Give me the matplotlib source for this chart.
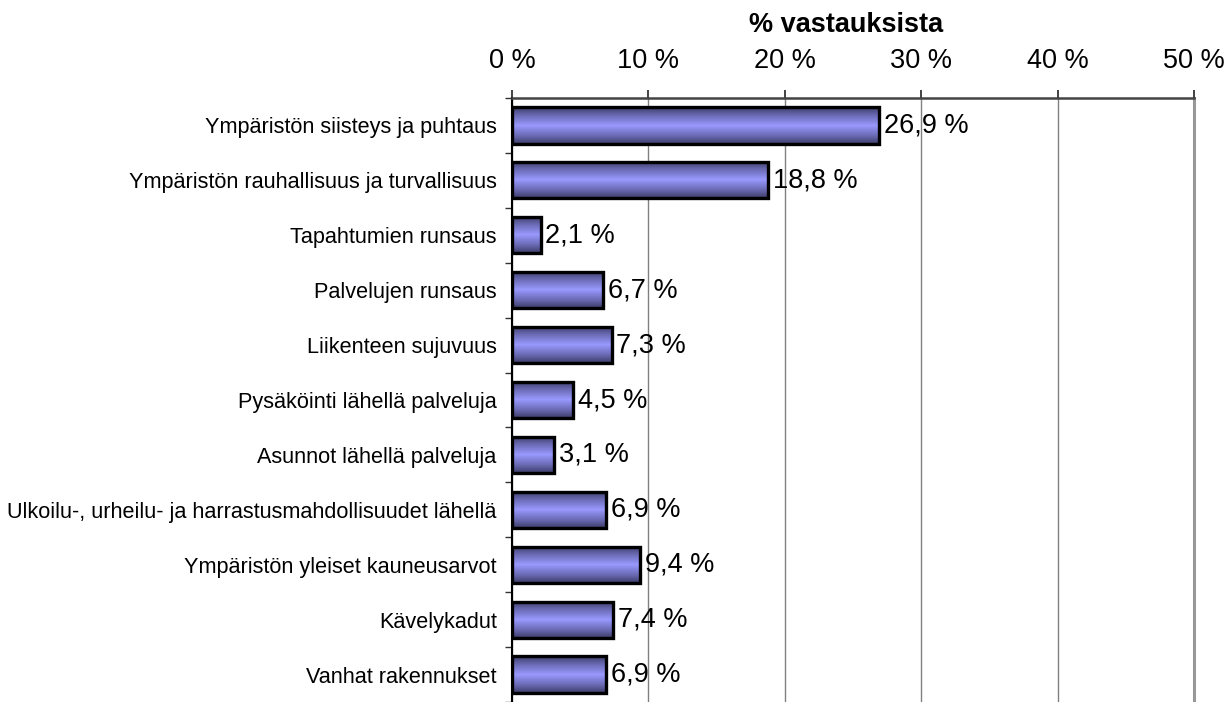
import matplotlib
matplotlib.use("Agg")
import matplotlib.pyplot as plt
import numpy as np
from matplotlib.colors import LinearSegmentedColormap

categories = [
    "Ympäristön siisteys ja puhtaus",
    "Ympäristön rauhallisuus ja turvallisuus",
    "Tapahtumien runsaus",
    "Palvelujen runsaus",
    "Liikenteen sujuvuus",
    "Pysäköinti lähellä palveluja",
    "Asunnot lähellä palveluja",
    "Ulkoilu-, urheilu- ja harrastusmahdollisuudet lähellä",
    "Ympäristön yleiset kauneusarvot",
    "Kävelykadut",
    "Vanhat rakennukset",
]
values = [26.9, 18.8, 2.1, 6.7, 7.3, 4.5, 3.1, 6.9, 9.4, 7.4, 6.9]
xticks = [0, 10, 20, 30, 40, 50]
xticklabels = ["0 %", "10 %", "20 %", "30 %", "40 %", "50 %"]
title = "% vastauksista"

plt.rcParams['font.family'] = ['Liberation Sans', 'DejaVu Sans']

fig = plt.figure(figsize=(12.26, 7.02), dpi=100)
ax = fig.add_axes([512/1226, -8/702, (1194-512)/1226, (702-98+8)/702])

n = len(categories)
y = np.arange(n)
h = 0.66
cmap = LinearSegmentedColormap.from_list(
    "g", [(0, "#3c3c68"), (0.22, "#6a6ab4"), (0.5, "#9999ff"), (0.78, "#6a6ab4"), (1, "#3c3c68")])
grad = np.linspace(0, 1, 128).reshape(-1, 1)

bars = ax.barh(y, values, height=h, color="#9999ff", edgecolor="black", linewidth=2.4, zorder=3)
for b in bars:
    x0, y0 = b.get_x(), b.get_y()
    w, hh = b.get_width(), b.get_height()
    im = ax.imshow(grad, cmap=cmap, aspect="auto", extent=[x0, x0 + w, y0 + hh, y0],
                   zorder=3.5, interpolation="bilinear")
    im.set_clip_path(b)
    b.set_facecolor("none")
    b.set_zorder(4)

for yi, v in zip(y, values):
    ax.text(v + 0.35, yi, f"{v:.1f} %".replace(".", ","), va="center", ha="left",
            fontsize=19.5, zorder=5)

ax.set_xlim(0, 50)
ax.set_ylim(n - 0.5 + (8/55.3), -0.5)
ax.xaxis.tick_top()
ax.set_xticks(xticks)
ax.set_xticklabels(xticklabels, fontsize=19.5)
ax.tick_params(axis="x", direction="out", length=6, width=1.2, pad=11, color="#222222")
ax.set_yticks(y)
ax.set_yticklabels(categories, fontsize=15.6)
ax.set_yticks(np.arange(n + 1) - 0.5, minor=True)
ax.tick_params(axis="y", which="major", length=0, pad=11)
ax.tick_params(axis="y", which="minor", direction="out", length=5, width=1, color="#333333")
fig.text((512 + 0.49 * 682) / 1226, 1 - 25/702, title, fontsize=19.5, fontweight="bold",
         ha="center", va="center")

ax.grid(axis="x", color="#808080", linewidth=1, zorder=0)
ax.axvline(50, color="#999999", linewidth=2.2, zorder=0.5, clip_on=False)
for s in ["right", "bottom"]:
    ax.spines[s].set_visible(False)
ax.spines["top"].set_color("#444444")
ax.spines["top"].set_linewidth(1.8)
ax.spines["left"].set_color("black")
ax.spines["left"].set_linewidth(1.5)

fig.savefig("out.png", dpi=100)
